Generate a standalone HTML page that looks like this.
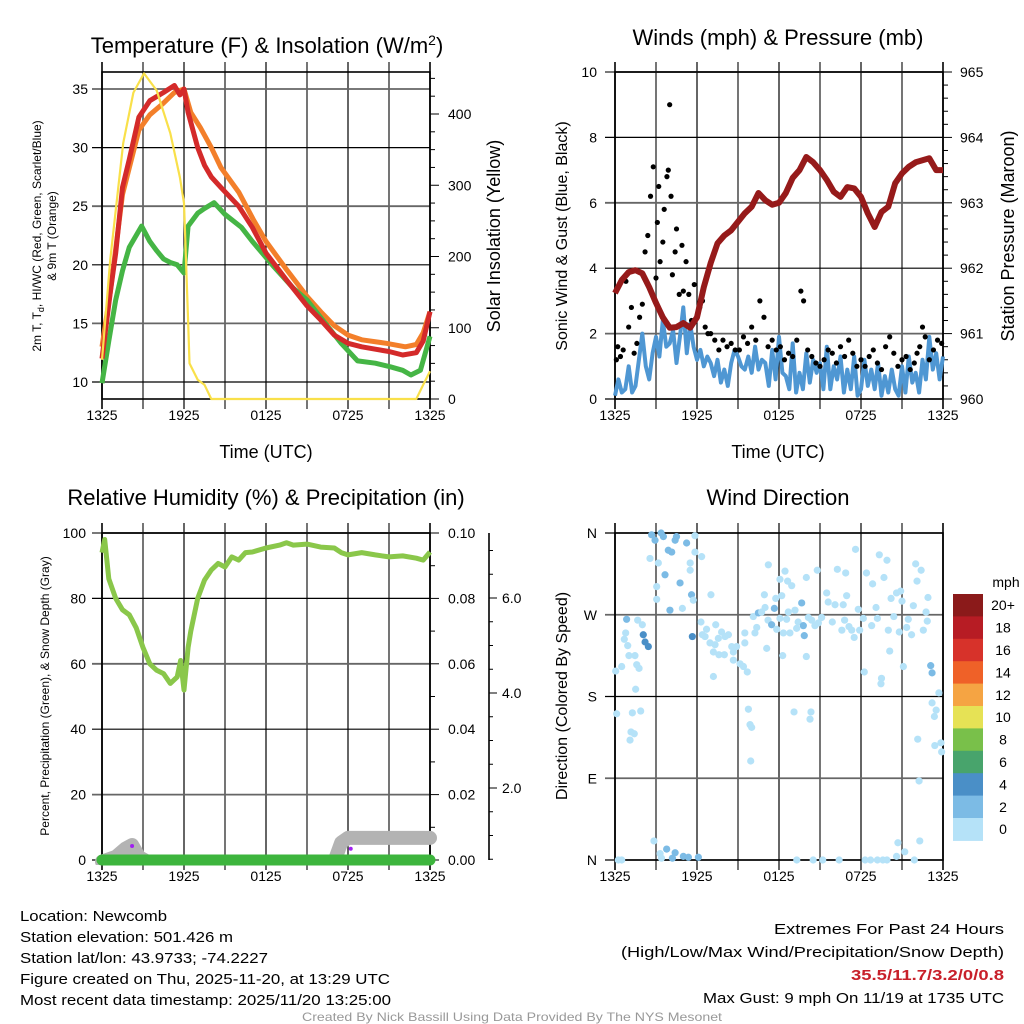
<!DOCTYPE html>
<html><head><meta charset="utf-8">
<style>
html,body{margin:0;padding:0;background:#fff;}
svg{display:block;font-family:"Liberation Sans",sans-serif;}
</style></head>
<body>
<svg id="root" width="1024" height="1024" viewBox="0 0 1024 1024" xmlns="http://www.w3.org/2000/svg">
<g font-size="15" fill="#000">
<text x="20" y="921" textLength="147" lengthAdjust="spacingAndGlyphs">Location: Newcomb</text>
<text x="20" y="942" textLength="213" lengthAdjust="spacingAndGlyphs">Station elevation: 501.426 m</text>
<text x="20" y="963" textLength="248" lengthAdjust="spacingAndGlyphs">Station lat/lon: 43.9733; -74.2227</text>
<text x="20" y="984" textLength="370" lengthAdjust="spacingAndGlyphs">Figure created on Thu, 2025-11-20, at 13:29 UTC</text>
<text x="20" y="1005" textLength="371" lengthAdjust="spacingAndGlyphs">Most recent data timestamp: 2025/11/20 13:25:00</text>
</g>
<g font-size="15" fill="#000">
<text x="774" y="934" textLength="230" lengthAdjust="spacingAndGlyphs">Extremes For Past 24 Hours</text>
<text x="621" y="957" textLength="383" lengthAdjust="spacingAndGlyphs">(High/Low/Max Wind/Precipitation/Snow Depth)</text>
<text x="851" y="980" textLength="153" lengthAdjust="spacingAndGlyphs" font-weight="bold" fill="#c8202a">35.5/11.7/3.2/0/0.8</text>
<text x="703" y="1003" textLength="301" lengthAdjust="spacingAndGlyphs">Max Gust: 9 mph On 11/19 at 1735 UTC</text>
</g>
<text x="302" y="1021" font-size="12" fill="#999" textLength="420" lengthAdjust="spacingAndGlyphs">Created By Nick Bassill Using Data Provided By The NYS Mesonet</text>
</svg>
<script>
// ---------- DATA ----------
const xTickLabels = ["1325","1925","0125","0725","1325"];
const tempHours = [0,0.6,1,1.5,2,2.7,3.5,4.5,5.3,5.7,6,6.3,7,7.5,8,8.7,10,11,12,13.5,15,16,17,18,19,20,21,22,23,23.5,24];
const tempRed   = [12,17.6,21,26.6,29,32.6,34,34.7,35.3,34.5,35,33,30,28.5,27.5,26.6,25,23.2,21,18.7,16.5,15.3,14,13.3,13,12.8,12.6,12.3,12.5,13.5,16];
const orangeHours = [0,0.6,1.5,2.7,3.5,4.5,5.3,6,6.5,7.2,8,8.7,10,11.1,12,13.5,15,16,17,18,19,20.8,22.2,23,23.5,24];
const temp9m = [13,17.6,26,31.5,32.8,33.8,34.7,35,33,31.7,30,28.3,26.2,23.8,22,19.6,17.3,16,14.8,14,13.6,13.3,13,13.2,14.2,16];
const dewHours = [0,0.5,1,1.5,2,2.9,3.5,4,4.5,5,5.5,6,6.3,7,7.5,8.2,9,10.2,11,12.6,14,15,16,17.5,18.7,20,21.1,22,22.6,23.3,24];
const dewGreen = [9.9,13.5,17,19.5,21.5,23.3,22,21.2,20.5,20.2,20,19.3,23.3,24.4,24.8,25.3,24.3,23.2,22,19.8,18,17,15.5,13.3,11.8,11.6,11.3,11,10.6,11,13.9];
const solarHours = [0,0.6,1.55,2.3,3.07,4,5,5.7,6,6.3,6.4,7,7.5,8,23,23.5,24];
const solarVals  = [55,195,359,430,457,433,373,311,275,110,50,27,20,0,0,20,39];
const pressHours = [0,0.5,1,1.5,2,2.5,3,3.5,4,4.5,5,5.5,6,6.5,7,7.5,8,8.5,9,9.5,10,10.5,11,11.5,12,12.5,13,13.5,14,14.5,15,15.5,16,16.5,17,17.5,18,18.5,19,19.5,20,20.5,21,21.5,22,22.5,23,23.5,24];
const pressVals = [961.62,961.82,961.94,961.97,961.92,961.71,961.47,961.25,961.09,961.1,961.16,961.09,961.25,961.71,962.08,962.38,962.5,962.58,962.71,962.84,962.94,963.15,963.04,962.97,963.0,963.15,963.38,963.5,963.7,963.62,963.5,963.35,963.17,963.09,963.24,963.22,963.09,962.84,962.63,962.86,962.94,963.3,963.45,963.55,963.62,963.65,963.68,963.5,963.5];
const windVals = [0.1,0.6,0.2,0.3,1.0,0.2,0.4,1.2,2.0,1.0,0.6,1.4,1.9,1.3,2.4,1.6,1.7,2.1,1.1,1.9,2.8,1.4,2.3,1.6,1.2,1.5,1.0,1.3,1.1,0.7,1.2,0.5,0.9,0.4,1.1,1.5,1.3,1.0,0.9,1.3,0.8,1.6,0.9,1.2,1.1,0.4,1.5,0.6,1.9,0.8,0.7,0.3,1.7,0.2,0.8,0.3,1.4,0.5,1.2,0.8,1.1,0.3,1.6,0.3,1.0,0.6,1.3,0.2,0.9,0.3,1.3,0.1,0.3,1.2,0.4,0.9,0.3,1.1,0.1,0.7,0.2,0.9,0.3,0.1,1.0,0.2,1.3,0.5,0.8,0.2,1.2,0.6,1.9,0.9,1.4,0.6,1.3];
const gustHours = [0.1,0.2,0.4,0.6,0.8,1.0,1.2,1.4,1.6,1.8,2.0,2.2,2.4,2.6,2.8,3.0,3.1,3.2,3.3,3.5,3.6,3.8,3.9,4.0,4.1,4.2,4.4,4.5,4.7,4.9,5.0,5.2,5.4,5.6,5.8,6.0,6.2,6.4,6.6,6.8,7.0,7.3,7.6,7.9,8.2,8.5,8.8,9.1,9.4,9.7,10.0,10.3,10.6,10.9,11.2,11.5,11.8,12.1,12.4,12.7,13.0,13.3,13.6,13.8,14.1,14.4,14.7,15.0,15.3,15.6,15.9,16.2,16.5,16.8,17.1,17.4,17.7,18.0,18.3,18.6,18.9,19.2,19.5,19.8,20.1,20.4,20.7,21.0,21.3,21.6,21.9,22.1,22.3,22.5,22.7,23.0,23.3,23.6,23.9];
const gustVals  = [1.2,1.6,1.3,1.5,3.6,2.2,2.8,1.4,1.7,2.5,2.9,4.5,5.0,6.2,7.1,3.7,5.4,6.5,4.2,4.8,5.8,6.8,7.0,9.0,6.2,3.8,4.5,5.2,3.2,4.7,3.3,4.2,3.2,2.4,3.5,2.5,2.8,3.0,2.2,2.0,2.0,1.8,1.5,1.8,1.6,1.7,1.5,1.5,1.9,1.7,2.2,1.8,3.0,2.5,1.6,1.8,1.5,1.6,1.2,1.4,1.3,1.8,3.3,3.0,1.5,1.3,1.1,1.0,1.2,1.5,1.4,1.1,1.6,1.3,1.8,1.4,1.0,1.2,1.0,1.3,1.5,1.1,0.9,1.6,1.9,1.4,1.0,1.2,1.3,0.9,1.1,1.4,1.6,2.2,1.9,1.2,1.5,1.8,1.7];
const rhHours = [0,0.2,0.5,1,1.5,2,2.5,3,3.5,4,4.5,5,5.5,5.75,6,6.3,6.5,7,7.5,8,8.5,9,9.5,10,10.5,11,12,13,13.5,14,15,16,17,17.5,18,19,20,21,22,23,23.5,24];
const rhVals = [94,98,86,80,76.5,75,71,65,60,58,57,54,56,61,52,65,70,80,85.6,88.7,90.7,89.6,92.7,91.7,94,94.2,95.4,96.3,97,96.3,96.6,95.7,95.4,94,93.3,94,93.3,92.7,93,92.3,91.7,94.2];
const precipHours = [0,24];
const precipVals = [0,0];
const snowHours = [0,1,1.7,2.2,2.7,3.3,4,17,17.5,18,24];
const snowVals = [0.45,0.55,0.72,0.8,0.55,0.45,0.3,0.45,0.85,0.95,0.95];
const dirHours = [2.68,2.93,3.37,3.54,3.9,4.15,4.4,4.5,5.24,5.85,2.56,3.17,3.66,4.76,5.5,5.5,5.6,5.73,3.05,3.05,4.02,4.93,5.85,6.34,7.02,0.85,1.66,2.0,0.78,0.68,0.93,2.07,2.2,2.44,0.49,0.05,1.02,1.46,1.59,1.76,1.51,0.12,1.27,1.88,1.17,1.41,1.1,5.66,6.29,6.7,7.37,6.59,6.95,7.32,7.8,8.05,8.3,7.56,7.2,7.6,8.0,8.54,8.9,8.66,9.15,9.4,9.68,7.2,6.39,9.5,9.5,8.66,10.12,10.49,10.73,10.98,11.2,11.46,11.66,11.83,12.07,12.32,12.68,12.56,12.8,13.29,13.4,13.66,13.78,13.85,14.15,14.39,14.63,14.88,10.24,10.37,10.93,11.1,12.27,14.0,11.22,12.07,12.44,12.63,12.93,11.76,12.2,14.0,14.8,13.17,15.12,15.49,15.6,15.9,16.1,16.27,16.6,16.7,16.8,16.88,16.95,17.12,17.32,17.5,17.6,17.8,17.9,18.17,18.24,18.4,18.78,18.85,19.1,19.2,19.34,19.46,19.5,19.68,19.9,20.0,20.1,20.2,20.4,20.6,20.8,20.9,21.0,21.1,21.34,21.46,21.7,21.83,22.0,22.1,22.4,22.56,22.76,22.85,22.9,23.1,23.2,23.7,23.2,23.5,23.37,22.15,23.4,23.85,23.9,22.25,9.76,9.88,10.0,9.93,13.1,14.34,14.27,2.85,3.3,3.4,3.78,4.2,4.4,5.0,5.37,6.1,0.24,0.49,13.3,14.5,15.2,16.4,18.3,18.7,19.2,19.6,19.9,20.6,20.7,21.2,21.9,22.3];
const dirDeg = [358,352,360,356,341,339,352,356,349,357,332,327,314,305,327,319,292,286,301,287,275,277,339,334,292,265,264,259,250,243,236,248,240,235,213,208,225,225,215,211,188,161,162,164,141,139,132,246,262,254,259,246,239,237,251,246,248,244,229,226,226,235,235,220,216,213,207,202,248,239,250,229,268,272,273,278,264,259,277,254,266,250,273,265,250,255,262,283,258,247,267,264,258,261,250,256,292,233,225,224,325,309,318,307,302,288,291,311,319,275,267,294,284,262,281,320,253,281,264,316,291,257,253,245,342,276,253,266,207,316,258,304,278,266,336,194,200,311,330,253,230,288,268,294,251,296,285,213,256,265,248,280,326,307,319,253,273,263,289,214,206,184,173,165,158,133,126,129,119,87,166,149,146,109,163,163,155,21,7,2,12,2,8,4,3,3,0,0,0,0,0,0,0,0,0,0,0,4,19,9,0,21];
const dirSpeed = [2,3,2.5,3,3,3,3,3,3,1,1,1,3.5,3.5,1,1,3,1,1,1,3.5,1,1,1,1,3.5,1,1,1,1,1,4,4,4,1,1,1,1,1,1,1,1,1,1,1,1,1,4,1,1,1,1,1,1,1,1,1,1,1,1,1,1,1,1,1,1,1,1,1,1,1,1,1,3,1,1,1,3.5,3.5,1,1,1,1,1,1,1,1,3.5,3.5,3.5,1,1,1,1,1,1,1,1,1,1,1,1,1,1,1,1,1,1,1,1,1,1,1,1,1,1,1,1,1,1,1,1,1,1,1,1,1,1,1,1,1,1,1,1,1,1,1,1,1,1,1,1,1,1,1,1,1,1,1,1,1,1,1,1,1,1,1,1,1,3.5,3.5,1,1,1,1,1,1,1,1,1,1,1,1,1,1,1,1,1,1,1,3.5,3,3,3.5,3,3,1,1,1,1,1,1,1,1,1,1,1,1,1,1,1,1,1,1,1];
const speedBins = ["0","2","4","6","8","10","12","14","16","18","20+"];
const speedColors = ["#b5e2f8","#7cbbe5","#4a8fc7","#48a46c","#79c04a","#e6e255","#f5a443","#ef6128","#d7322a","#b71c24","#8b1a1a"];

// ---------- HELPERS ----------
const NS = "http://www.w3.org/2000/svg";
const root = document.getElementById("root");
function mk(tag, attrs, parent){
  const el = document.createElementNS(NS, tag);
  for (const k in attrs) el.setAttribute(k, attrs[k]);
  (parent || root).appendChild(el);
  return el;
}
function lin(d0,d1,r0,r1){ return v => r0 + (v-d0)*(r1-r0)/(d1-d0); }
function pathFrom(xs, ys, fx, fy){
  return xs.map((h,i)=>(i?"L":"M")+fx(h).toFixed(1)+","+fy(ys[i]).toFixed(1)).join(" ");
}
function txt(x,y,s,size,anchor,parent,extra){
  const t = mk("text", Object.assign({x:x,y:y,"font-size":size,"text-anchor":anchor||"middle",fill:"#000"}, extra||{}), parent);
  t.textContent = s;
  return t;
}
function frame(g, x0, y0, x1, y1, hGrid, fy){
  const fxh = lin(0,24,x0,x1);
  for (let h=3; h<24; h+=3){
    const l = mk("line",{x1:fxh(h),x2:fxh(h),y1:y0-10,y2:y1+10,stroke:(h%6===0)?"#000":"#666","stroke-width":(h%6===0)?1.2:1.8},g);
    
    
  }
  hGrid.forEach((v,i)=>{
    const l = mk("line",{x1:x0-10,x2:x1,y1:fy(v),y2:fy(v),stroke:(i%2)?"#666":"#000","stroke-width":(i%2)?1.8:1.2},g);
    
    
  });
  const r = mk("rect",{x:x0,y:y0,width:x1-x0,height:y1-y0,fill:"none",stroke:"#000","stroke-width":1.6},g);
  
  
  [0,24].forEach(h=>{
    const l = mk("line",{x1:fxh(h),x2:fxh(h),y1:y0-10,y2:y1+10,stroke:"#000","stroke-width":1.6},g);
    
    
  });
  xTickLabels.forEach((s,i)=>{
    const t = txt(fxh(i*6), y1+21, s, 14, "middle", g);
    
    
  });
  return fxh;
}

// ---------- PANEL 1: Temperature ----------
(function(){
  const g = mk("g",{});
  
  
  const X0=102,X1=430,Y0=72,Y1=399;
  const fy = lin(10,35,382,89);
  const fyS = lin(0,400,399,114);
  const fx = frame(g,X0,Y0,X1,Y1,[10,15,20,25,30,35],fy);
  [10,15,20,25,30,35].forEach(v=>{
    const t = txt(X0-14, fy(v)+5, String(v), 14, "end", g);
    
    
  });
  for (let v=0; v<=450; v+=25){
    const l = mk("line",{x1:X1,x2:X1+(v%100===0?9:5),y1:fyS(v),y2:fyS(v),stroke:"#000","stroke-width":1},g);
    
    
  }
  [0,100,200,300,400].forEach(v=>{
    const t = txt(X1+18, fyS(v)+5, String(v), 14, "start", g);
    
    
  });
  const s1 = mk("path",{d:pathFrom(orangeHours,temp9m,fx,fy),fill:"none",stroke:"#f37f2a","stroke-width":5,"stroke-linejoin":"round"},g);
  
  
  const s2 = mk("path",{d:pathFrom(dewHours,dewGreen,fx,fy),fill:"none",stroke:"#45b545","stroke-width":5,"stroke-linejoin":"round"},g);
  
  
  const s3 = mk("path",{d:pathFrom(tempHours,tempRed,fx,fy),fill:"none",stroke:"#d42a2a","stroke-width":5,"stroke-linejoin":"round"},g);
  
  
  const s4 = mk("path",{d:pathFrom(solarHours,solarVals,fx,fyS),fill:"none",stroke:"#f9e04a","stroke-width":2.2,"stroke-linejoin":"round"},g);
  
  
  const tt = mk("text",{x:267,y:53,"font-size":22,"text-anchor":"middle"},g);
  tt.innerHTML = 'Temperature (F) &amp; Insolation (W/m<tspan dy="-8" font-size="14">2</tspan><tspan dy="8">)</tspan>';
  
  
  const yl = mk("text",{transform:"translate(41,236) rotate(-90)","font-size":12,"text-anchor":"middle"},g);
  yl.innerHTML = '2m T, T<tspan dy="3" font-size="9">d</tspan><tspan dy="-3">, HI/WC (Red, Green, Scarlet/Blue)</tspan>';
  
  
  const yl2 = txt(0,0,"& 9m T (Orange)",12,"middle",g,{transform:"translate(56,236) rotate(-90)"});
  
  
  const yr = txt(0,0,"Solar Insolation (Yellow)",18,"middle",g,{transform:"translate(500,236) rotate(-90)"});
  
  
  const xt = txt(266,458,"Time (UTC)",18,"middle",g);
  
  
})();

// ---------- PANEL 2: Winds ----------
(function(){
  const g = mk("g",{});
  
  
  const X0=615,X1=943,Y0=72,Y1=399;
  const fy = lin(0,10,399,72);
  const fyP = lin(960,965,399,72);
  const fx = frame(g,X0,Y0,X1,Y1,[0,2,4,6,8,10],fy);
  [0,2,4,6,8,10].forEach(v=>{
    const t = txt(X0-18, fy(v)+5, String(v), 14, "end", g);
    
    
  });
  for (let v=960; v<=965.001; v+=0.2){
    const l = mk("line",{x1:X1,x2:X1+(Math.abs(v-Math.round(v))<0.01?9:5),y1:fyP(v),y2:fyP(v),stroke:"#000","stroke-width":1},g);
    
    
  }
  [960,961,962,963,964,965].forEach(v=>{
    const t = txt(X1+17, fyP(v)+5, String(v), 14, "start", g);
    
    
  });
  const wh = windVals.map((v,i)=>i*24/(windVals.length-1));
  const w = mk("path",{d:pathFrom(wh,windVals,fx,fy),fill:"none",stroke:"#4f97d3","stroke-width":4,"stroke-linejoin":"round"},g);
  
  
  gustHours.forEach((h,i)=>{
    const c = mk("circle",{cx:fx(h),cy:fy(gustVals[i]),r:2.6,fill:"#000"},g);
    
    
  });
  const p = mk("path",{d:pathFrom(pressHours,pressVals,fx,fyP),fill:"none",stroke:"#961a1a","stroke-width":6,"stroke-linejoin":"round"},g);
  
  
  const tt = txt(778,45,"Winds (mph) & Pressure (mb)",22,"middle",g);
  
  
  const yl = txt(0,0,"Sonic Wind & Gust (Blue, Black)",16,"middle",g,{transform:"translate(567,236) rotate(-90)"});
  
  
  const yr = txt(0,0,"Station Pressure (Maroon)",18,"middle",g,{transform:"translate(1014,236) rotate(-90)"});
  
  
  const xt = txt(778,458,"Time (UTC)",18,"middle",g);
  
  
})();

// ---------- PANEL 3: RH ----------
(function(){
  const g = mk("g",{});
  
  
  const X0=102,X1=430,Y0=533,Y1=860;
  const fy = lin(0,100,860,533);
  const fyPr = lin(0,0.1,860,533);
  const fySn = lin(0,2,883,788);
  const fx = frame(g,X0,Y0,X1,Y1,[0,20,40,60,80,100],fy);
  [0,20,40,60,80,100].forEach(v=>{
    const t = txt(X0-16, fy(v)+5, String(v), 14, "end", g);
    
    
  });
  for (let v=0; v<=100; v+=10){
    const l = mk("line",{x1:X1,x2:X1+(v%20===0?9:5),y1:fy(v),y2:fy(v),stroke:"#000","stroke-width":1},g);
    
    
  }
  ["0.00","0.02","0.04","0.06","0.08","0.10"].forEach((s,i)=>{
    const t = txt(X1+18, fyPr(i*0.02)+5, s, 14, "start", g);
    
    
  });
  const ax = mk("line",{x1:489,x2:489,y1:533,y2:860,stroke:"#000","stroke-width":1.6},g);
  
  
  for (let v=0.5; v<=7; v+=0.5){
    const yy = fySn(v); if (yy<533) continue;
    const l = mk("line",{x1:489,x2:489+(v%2===0?8:4),y1:yy,y2:yy,stroke:"#000","stroke-width":1},g);
    
    
  }
  ["2.0","4.0","6.0"].forEach((s,i)=>{
    const t = txt(502, fySn((i+1)*2)+5, s, 14, "start", g);
    
    
  });
  const cp = mk("clipPath",{id:"clip3"},g);
  mk("rect",{x:90,y:533,width:350,height:332},cp);
  const sn = mk("path",{d:pathFrom(snowHours,snowVals,fx,fySn),fill:"none",stroke:"#b3b3b3","stroke-width":14,"stroke-linecap":"round","stroke-linejoin":"round","clip-path":"url(#clip3)"},g);
  
  
  [[2.2,0.78],[18.2,0.72]].forEach(p=>{
    const c = mk("circle",{cx:fx(p[0]),cy:fySn(p[1]),r:2,fill:"#a020f0"},g);
    
    
  });
  const pr = mk("path",{d:pathFrom(precipHours,precipVals,fx,fyPr),fill:"none",stroke:"#3db53d","stroke-width":11,"stroke-linecap":"round"},g);
  
  
  const rh = mk("path",{d:pathFrom(rhHours,rhVals,fx,fy),fill:"none",stroke:"#8ac74a","stroke-width":5,"stroke-linejoin":"round"},g);
  
  
  const tt = txt(266,505,"Relative Humidity (%) & Precipitation (in)",22,"middle",g);
  
  
  const yl = txt(0,0,"Percent, Precipitation (Green), & Snow Depth (Gray)",12,"middle",g,{transform:"translate(49,696) rotate(-90)"});
  
  
})();

// ---------- PANEL 4: Wind Direction ----------
(function(){
  const g = mk("g",{});
  
  
  const X0=615,X1=943,Y0=533,Y1=860;
  const fy = lin(0,360,860,533);
  const fx = frame(g,X0,Y0,X1,Y1,[0,90,180,270,360],fy);
  ["N","E","S","W","N"].forEach((s,i)=>{
    const t = txt(X0-18, fy(i*90)+5, s, 14, "end", g);
    
    
  });
  dirHours.forEach((h,i)=>{
    const sp = dirSpeed[i];
    const idx = Math.min(10, Math.floor(sp/2));
    const c = mk("circle",{cx:fx(h),cy:fy(dirDeg[i]),r:3.6,fill:speedColors[idx]},g);
    
    
  });
  const tt = txt(778,505,"Wind Direction",22,"middle",g);
  
  
  const yl = txt(0,0,"Direction (Colored By Speed)",16,"middle",g,{transform:"translate(567,696) rotate(-90)"});
  
  
  const lg = mk("g",{},g);
  
  
  const bh = 22.4, by0 = 594;
  speedBins.forEach((s,i)=>{
    const k = 10-i;
    const r = mk("rect",{x:953,y:by0+i*bh,width:30,height:bh+0.5,fill:speedColors[k]},lg);
    
    
    const t = txt(1003, by0+i*bh+bh/2+5, speedBins[k], 14, "middle", lg);
    
    
  });
  const u = txt(1006,587,"mph",14,"middle",lg);
  
  
})();
</script>
</body></html>
